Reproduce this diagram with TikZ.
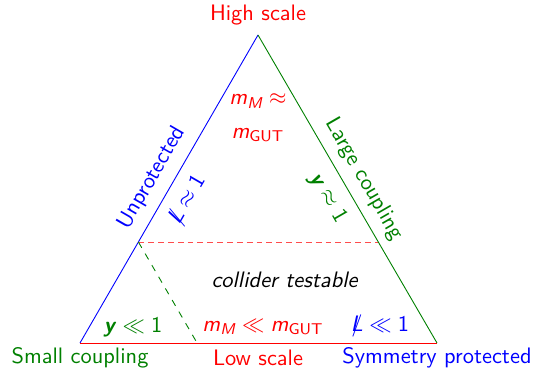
\documentclass[tikz,border=0pt]{standalone}
\usepackage{amsmath}
\usetikzlibrary{calc}
\colorlet{grn}{green!50!black}
\newcommand{\Lslash}{\ooalign{\textit{L}\cr\hidewidth$/$\hidewidth\cr}}
\newcommand{\mM}{\textit{m}_{\textit{M}}}
\newcommand{\mGUT}{\textit{m}_{\textsf{GUT}}}
\newcommand{\one}{\textsf{1}}
\begin{document}
\begin{tikzpicture}[font=\sffamily, x=0.0157cm, y=-0.0157cm,
  mth/.style={font=\sffamily}]
  \useasboundingbox (0,0) rectangle (534,372);
  \coordinate (top) at (258,35);
  \coordinate (bl) at (80,343);
  \coordinate (br) at (437,343);
  \coordinate (dl) at ($(bl)!0.328!(top)$);
  \coordinate (dr) at ($(br)!0.328!(top)$);
  \coordinate (db) at ($(bl)!0.328!(br)$);
  \draw[blue] (top) -- (bl);
  \draw[grn] (top) -- (br);
  \draw[red] (bl) -- (br);
  \draw[red!70, dash pattern=on 2.6pt off 1.8pt] (dl) -- (dr);
  \draw[grn, dashed] (dl) -- (db);
  % corners and sides
  \node[red] (hs) at (258,15) {High scale};
  \node[grn] (sc) at (80,358) {Small coupling};
  \node[red] (ls) at (258,358) {Low scale};
  \node[blue] (sp) at (437,358) {Symmetry protected};
  \node[blue, rotate=60] (unp) at (152,178) {Unprotected};
  \node[grn, rotate=-60] (lc) at (364,179) {Large coupling};
  % regions
  \node[blue, mth, rotate=60] (lapp) at (188,200) {$\Lslash\approx \one$};
  \node[grn, mth, rotate=-60] (yapp) at (328,198) {$\textbf{\textit{y}}\approx \one$};
  \node[red, mth, align=center] (mapp) at (258,118) {$\mM\approx$\\[3pt]$\mGUT$};
  \node (ct) at (285,280) {\textit{collider testable}};
  \node[grn, mth] (yll) at (133,327) {$\textbf{\textit{y}}\ll \one$};
  \node[red, mth] (mll) at (263,327) {$\mM\ll\mGUT$};
  \node[blue, mth] (lll) at (380,327) {$\Lslash\ll \one$};
\end{tikzpicture}
\end{document}
